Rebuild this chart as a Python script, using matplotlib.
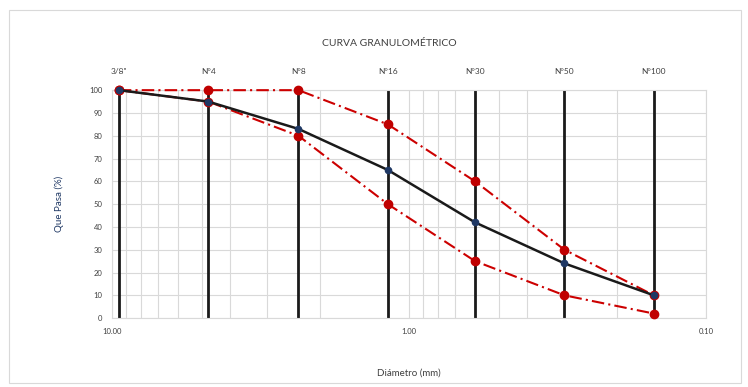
import numpy as np
import matplotlib.pyplot as plt
from matplotlib.ticker import FixedLocator, NullFormatter

plt.rcParams['font.family'] = ['Lato', 'DejaVu Sans']

# tamices
sieves = ['3/8"', 'N°4', 'N°8', 'N°16', 'N°30', 'N°50', 'N°100']
diam = [9.5, 4.75, 2.36, 1.18, 0.60, 0.30, 0.15]

# curvas
pasa = [100, 95, 83, 65, 42, 24, 10]
lim_sup = [100, 100, 100, 85, 60, 30, 10]
lim_inf = [100, 95, 80, 50, 25, 10, 2]


def plot_curva():
    fig = plt.figure(figsize=(7.48, 3.87), dpi=100)
    fig.patches.append(plt.Rectangle((0.012, 0.01), 0.978, 0.965, transform=fig.transFigure,
                                     fill=False, edgecolor='#d9d9d9', linewidth=0.8))
    ax = fig.add_axes([0.150, 0.178, 0.794, 0.589])
    ax.set_xscale('log')
    ax.set_xlim(10, 0.1)
    ax.set_ylim(0, 100)

    ax.set_yticks(np.arange(0, 101, 10))
    ax.set_xticks([10, 1, 0.1])
    ax.set_xticklabels(['10.00', '1.00', '0.10'])
    ax.xaxis.set_minor_formatter(NullFormatter())
    ax.grid(True, which='both', axis='x', color='#d9d9d9', linewidth=0.8)
    ax.grid(True, which='major', axis='y', color='#d9d9d9', linewidth=0.8)
    ax.set_axisbelow(True)
    for s in ax.spines.values():
        s.set_color('#d9d9d9')
    ax.tick_params(which='both', length=0, labelsize=5.5, colors='#404040', pad=7)

    # lineas verticales de tamices
    for d in diam:
        ax.axvline(d, color='#1a1a1a', linewidth=2, zorder=2)

    ax.plot(diam, lim_sup, color='#cc0000', linewidth=1.5, linestyle=(0, (6, 2, 1, 2)),
            marker='o', markersize=6, markerfacecolor='#c00000', markeredgecolor='#c00000', zorder=3, clip_on=False)
    ax.plot(diam, lim_inf, color='#cc0000', linewidth=1.5, linestyle=(0, (6, 2, 1, 2)),
            marker='o', markersize=6, markerfacecolor='#c00000', markeredgecolor='#c00000', zorder=3, clip_on=False)
    ax.plot(diam, pasa, color='#1a1a1a', linewidth=1.8,
            marker='o', markersize=4.5, markerfacecolor='#1f3864', markeredgecolor='#1f3864', zorder=4, clip_on=False)

    ax.set_xlabel('Diámetro (mm)', fontsize=7, color='#404040', labelpad=24)
    ax.set_ylabel('Que Pasa (%)', fontsize=7, color='#1f3864', labelpad=18)

    top = ax.twiny()
    top.set_xscale('log')
    top.set_xlim(ax.get_xlim())
    top.xaxis.set_major_locator(FixedLocator(diam))
    top.xaxis.set_minor_locator(FixedLocator([]))
    top.set_xticklabels(sieves)
    top.tick_params(length=0, labelsize=6, colors='#404040', pad=11)
    for s in top.spines.values():
        s.set_visible(False)

    fig.text(0.52, 0.888, 'CURVA GRANULOMÉTRICO', ha='center', va='center', fontsize=7.5, color='#404040')
    fig.savefig('out.png', dpi=100)


if __name__ == "__main__":
    plot_curva()
